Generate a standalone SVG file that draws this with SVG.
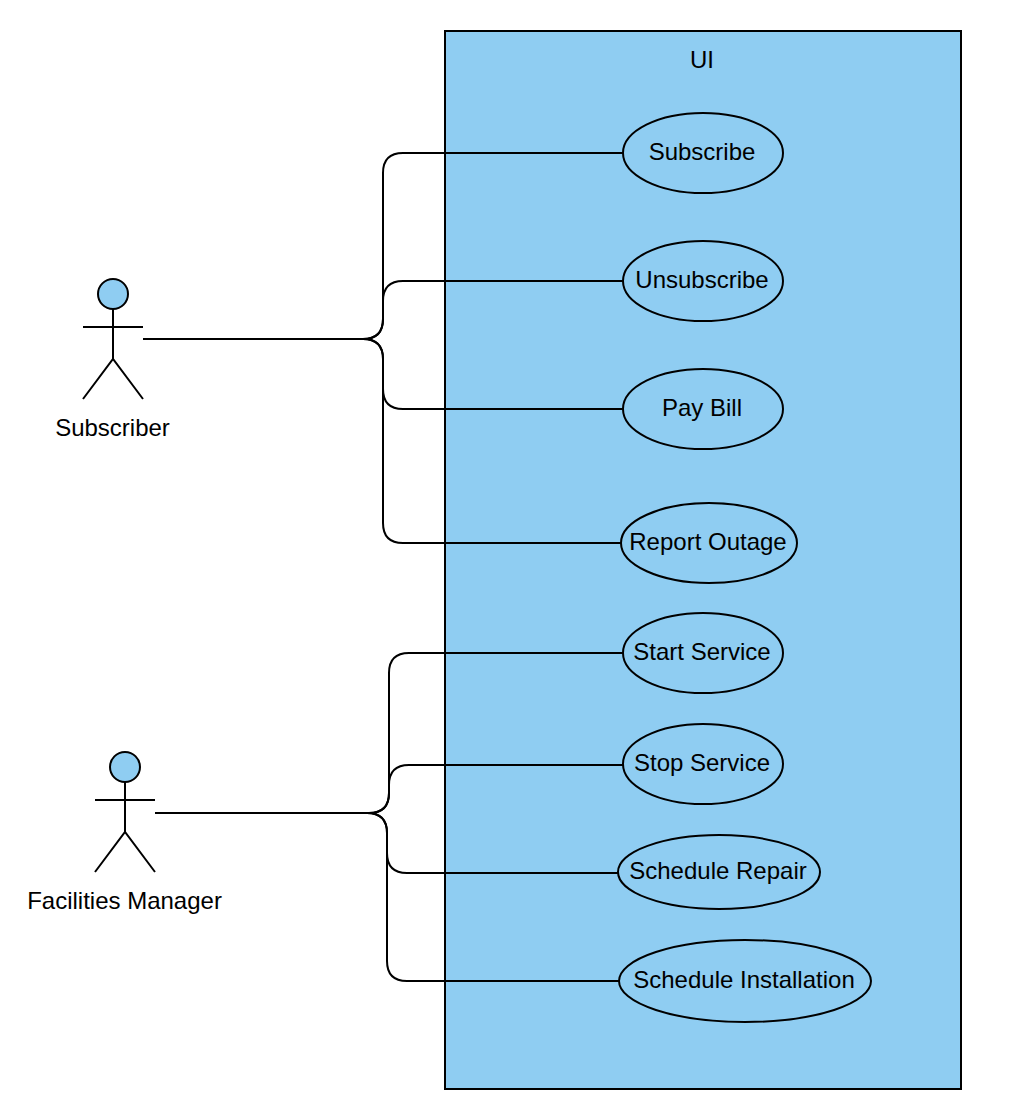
<svg xmlns="http://www.w3.org/2000/svg" width="1012" height="1118" viewBox="0 0 1012 1118">
<style>
.s{stroke:#000;stroke-width:2;fill:#8fcdf2}
.l{stroke:#000;stroke-width:2;fill:none}
text{font-family:"Helvetica Neue","Liberation Sans",Arial,sans-serif;font-size:24px;fill:#000;text-anchor:middle}
</style>
<rect width="1012" height="1118" fill="#fff"/>
<g id="ui"><rect class="s" x="445" y="31" width="516" height="1058"/><text x="702" y="68">UI</text></g>
<g id="connectors">
<path class="l" d="M143 339H363Q383 339 383 319V173Q383 153 403 153H623"/>
<path class="l" d="M143 339H363Q383 339 383 319V301Q383 281 403 281H623"/>
<path class="l" d="M143 339H363Q383 339 383 359V389Q383 409 403 409H623"/>
<path class="l" d="M143 339H363Q383 339 383 359V523Q383 543 403 543H621"/>
<path class="l" d="M155 813H369Q389 813 389 793V673Q389 653 409 653H623"/>
<path class="l" d="M155 813H369Q389 813 389 793V785Q389 765 409 765H623"/>
<path class="l" d="M155 813H367Q387 813 387 833V853Q387 873 407 873H619"/>
<path class="l" d="M155 813H367Q387 813 387 833V961Q387 981 407 981H619"/>
</g>
<g id="subscriber"><circle class="s" cx="113" cy="294" r="15"/><path class="l" d="M113 309V359M83 327H143M83 399L113 359L143 399"/><text x="112.500" y="436">Subscriber</text></g>
<g id="manager"><circle class="s" cx="125" cy="767" r="15"/><path class="l" d="M125 782V832M95 800H155M95 872L125 832L155 872"/><text x="124.500" y="909">Facilities Manager</text></g>
<g id="subscribe"><ellipse class="s" cx="703" cy="153" rx="80" ry="40"/><text x="702" y="160">Subscribe</text></g>
<g id="unsubscribe"><ellipse class="s" cx="703" cy="281" rx="80" ry="40"/><text x="702" y="288">Unsubscribe</text></g>
<g id="paybill"><ellipse class="s" cx="703" cy="409" rx="80" ry="40"/><text x="702" y="416">Pay Bill</text></g>
<g id="report"><ellipse class="s" cx="709" cy="543" rx="88" ry="40"/><text x="708" y="550">Report Outage</text></g>
<g id="start"><ellipse class="s" cx="703" cy="653" rx="80" ry="40"/><text x="702" y="660">Start Service</text></g>
<g id="stop"><ellipse class="s" cx="703" cy="764" rx="80" ry="40"/><text x="702" y="771">Stop Service</text></g>
<g id="repair"><ellipse class="s" cx="719" cy="872" rx="101" ry="37"/><text x="718" y="879">Schedule Repair</text></g>
<g id="install"><ellipse class="s" cx="745" cy="981" rx="126" ry="41"/><text x="744" y="988">Schedule Installation</text></g>
</svg>
